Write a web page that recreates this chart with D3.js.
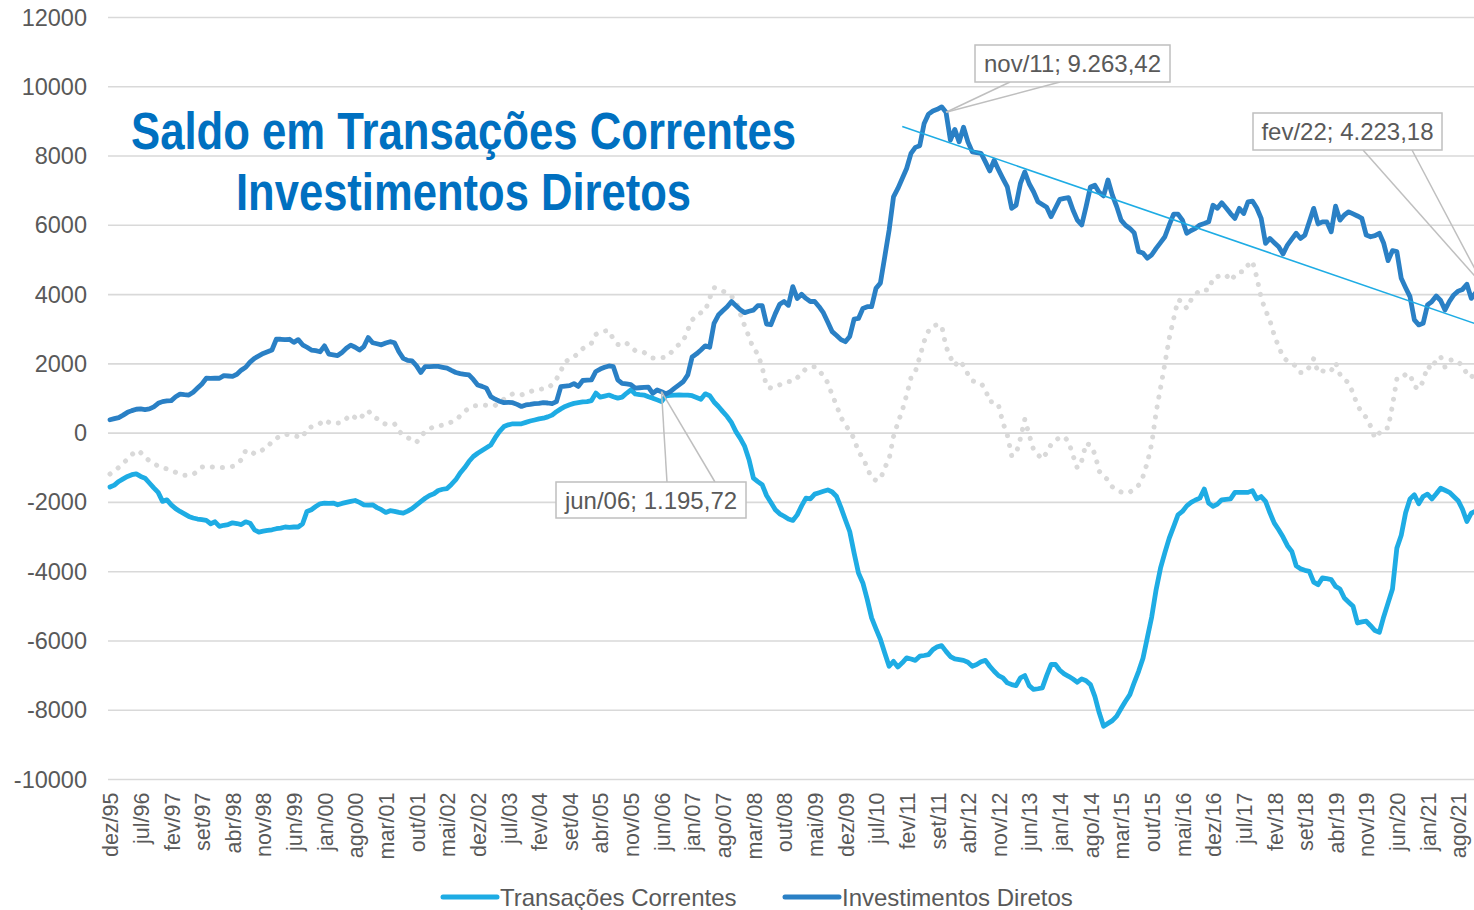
<!DOCTYPE html>
<html><head><meta charset="utf-8">
<script src="https://cdn.jsdelivr.net/npm/d3@7"></script>
<style>
html,body{margin:0;padding:0;background:#fff;overflow:hidden}
svg{display:block}
text{font-family:"Liberation Sans",Arial,Helvetica,sans-serif}
</style></head><body>
<svg id="chart" width="1474" height="910"></svg>
<script>
// ---------- DATA ----------
const monthNames = ["jan","fev","mar","abr","mai","jun","jul","ago","set","out","nov","dez"];
const firstYear = 1995, firstMonthIndex = 11, pointCount = 315; // dez/95 .. fev/22
const categories = d3.range(pointCount).map(i => {
  const m = (firstMonthIndex + i) % 12;
  const yr = firstYear + Math.floor((firstMonthIndex + i) / 12);
  return monthNames[m] + "/" + String(yr % 100).padStart(2, "0");
});
const tickStep = 7;
const tickLabels = categories.filter((d, i) => i % tickStep === 0);
const yTicks = [-10000,-8000,-6000,-4000,-2000,0,2000,4000,6000,8000,10000,12000];

// Transações Correntes (monthly, dez/95 .. fev/22)
const transacoesCorrentes = [
  -1555,
  -1500,-1395,-1320,-1250,-1200,-1175,-1250,-1300,-1440,-1580,-1710,-1970,
  -1925,-2070,-2180,-2260,-2330,-2405,-2450,-2480,-2500,-2520,-2615,-2560,
  -2690,-2660,-2640,-2590,-2610,-2640,-2560,-2600,-2790,-2855,-2830,-2810,
  -2790,-2760,-2740,-2710,-2720,-2710,-2710,-2615,-2260,-2210,-2120,-2040,
  -2020,-2030,-2020,-2070,-2030,-2000,-1970,-1945,-2000,-2070,-2080,-2070,
  -2150,-2210,-2290,-2240,-2260,-2290,-2310,-2250,-2180,-2080,-1980,-1880,
  -1800,-1750,-1655,-1620,-1600,-1480,-1345,-1150,-1000,-820,-675,-580,
  -500,-420,-340,-130,50,190,240,270,265,270,310,350,
  380,410,430,470,520,620,700,770,820,860,880,900,
  910,940,1155,1040,1070,1100,1050,1010,1040,1150,1250,1130,
  1110,1100,1050,1010,960,910,1075,1090,1100,1105,1100,1100,
  1080,1030,980,1135,1080,900,770,620,480,300,45,-150,
  -385,-770,-1300,-1400,-1490,-1800,-2000,-2210,-2330,-2400,-2480,-2520,
  -2360,-2100,-1875,-1900,-1760,-1720,-1680,-1640,-1700,-1830,-2150,-2500,
  -2840,-3460,-4040,-4325,-4800,-5335,-5650,-5950,-6345,-6730,-6590,-6750,
  -6630,-6490,-6520,-6560,-6440,-6420,-6395,-6250,-6170,-6135,-6300,-6450,
  -6520,-6540,-6560,-6615,-6730,-6680,-6600,-6560,-6730,-6875,-7000,-7065,
  -7210,-7260,-7290,-7065,-7000,-7290,-7400,-7380,-7355,-7000,-6680,-6680,
  -6845,-6950,-7020,-7100,-7190,-7095,-7150,-7260,-7600,-8075,-8460,-8380,
  -8300,-8170,-7950,-7740,-7550,-7200,-6875,-6500,-5900,-5300,-4520,-3900,
  -3450,-3030,-2700,-2360,-2260,-2100,-2000,-1930,-1875,-1615,-2020,-2115,
  -2050,-1925,-1910,-1900,-1710,-1710,-1710,-1710,-1660,-1900,-1830,-1970,
  -2300,-2600,-2790,-3000,-3250,-3415,-3830,-3920,-3960,-3990,-4300,-4375,
  -4180,-4200,-4230,-4425,-4500,-4760,-4880,-5000,-5480,-5450,-5430,-5560,
  -5700,-5750,-5300,-4900,-4500,-3320,-2950,-2300,-1900,-1780,-2040,-1830,
  -1760,-1900,-1750,-1590,-1650,-1710,-1830,-1950,-2200,-2550,-2310,-2250,
  -2200,-2180
];

// Investimentos Diretos (monthly, dez/95 .. fev/22)
const investimentosDiretos = [
  385,
  420,450,520,600,650,690,700,680,700,760,860,910,
  930,940,1050,1125,1110,1100,1180,1300,1420,1585,1580,1590,
  1585,1660,1650,1640,1700,1820,1900,2050,2160,2230,2300,2350,
  2400,2710,2710,2700,2710,2620,2700,2550,2480,2400,2380,2350,
  2520,2280,2260,2240,2330,2450,2540,2480,2400,2500,2760,2610,
  2580,2550,2600,2640,2610,2350,2160,2100,2085,1950,1750,1920,
  1920,1930,1925,1900,1875,1810,1750,1720,1700,1680,1550,1390,
  1350,1300,1055,980,920,880,890,880,830,770,815,830,
  850,860,880,870,850,910,1345,1360,1370,1430,1350,1520,
  1530,1540,1780,1850,1900,1940,1920,1540,1440,1420,1400,1300,
  1310,1320,1330,1150,1245,1195.72,1130,1200,1300,1395,1490,1680,
  2200,2290,2400,2520,2480,3170,3410,3535,3650,3800,3680,3560,
  3480,3520,3550,3680,3680,3150,3130,3450,3720,3800,3690,4230,
  3890,4010,3890,3800,3800,3650,3470,3200,2930,2820,2700,2640,
  2790,3290,3310,3600,3650,3650,4180,4330,5090,5860,6820,7065,
  7350,7640,8075,8250,8300,8940,9210,9300,9350,9420,9263.42,8460,
  8770,8410,8830,8410,8120,8100,8080,7830,7570,7880,7600,7350,
  7110,6490,6580,7210,7540,7200,6970,6680,6600,6520,6250,6500,
  6750,6780,6800,6440,6150,6010,6540,7110,7160,6950,6850,7310,
  6870,6540,6150,6000,5910,5780,5240,5200,5050,5150,5335,5500,
  5670,6010,6325,6325,6150,5770,5850,5910,6010,6050,6100,6580,
  6490,6650,6500,6340,6200,6490,6340,6680,6700,6500,6200,5480,
  5620,5500,5380,5170,5430,5600,5770,5620,5720,6100,6490,6040,
  6100,6100,5815,6555,6150,6300,6390,6330,6270,6200,5720,5670,
  5700,5770,5480,4980,5270,5240,4470,4200,3940,3270,3125,3170,
  3700,3800,3960,3830,3555,3800,3990,4100,4150,4300,3890,4050,
  4150,4223.18
];

// Saldo (dotted grey series)
const saldo = [
  -1180,
  -1080,-990,-870,-750,-620,-500,-560,-690,-800,-880,-950,-1000,
  -1030,-1070,-1130,-1180,-1220,-1210,-1190,-1100,-980,-950,-970,-990,
  -990,-990,-980,-960,-880,-770,-500,-500,-600,-560,-470,-415,
  -230,-150,-80,-30,-50,-80,-100,-125,140,180,220,280,
  385,310,270,290,305,420,535,450,385,560,650,480,
  420,300,260,265,270,60,-60,-130,-190,-270,-100,50,
  120,190,210,230,270,320,370,500,625,720,780,800,
  815,800,780,800,900,980,1060,1135,1120,1105,1150,1200,
  1240,1260,1280,1300,1400,1560,1800,2050,2150,2210,2300,2440,
  2520,2600,2850,2920,2950,2960,2710,2560,2530,2600,2500,2380,
  2350,2330,2250,2170,2160,2180,2190,2300,2450,2560,2670,2980,
  3270,3380,3480,3530,3900,4200,4170,4100,4050,3950,3800,3440,
  3095,2780,2430,2300,1900,1350,1300,1340,1395,1450,1490,1490,
  1600,1720,1860,1900,1920,1800,1650,1450,1100,800,450,250,
  45,-150,-550,-700,-1000,-1300,-1365,-1330,-1000,-750,-100,300,
  650,1100,1600,1780,2200,2650,2950,3100,3130,3105,2500,2190,
  1950,2100,1950,1700,1510,1480,1440,1260,900,920,800,300,
  -50,-650,-600,-150,400,-50,-480,-620,-750,-560,-330,-200,
  -130,-100,-250,-640,-1010,-800,-290,-350,-600,-1100,-1250,-1345,
  -1550,-1650,-1700,-1730,-1700,-1620,-1500,-1250,-850,-300,600,1300,
  2000,2740,3300,3850,3800,3600,3850,4000,4130,4130,4130,4470,
  4520,4565,4565,4400,4550,4660,4660,4850,4970,4500,3900,3550,
  3250,2820,2500,2200,2080,2000,1940,1750,1750,1905,2150,1750,
  1800,1750,1800,2035,1700,1550,1450,1150,800,600,450,200,
  -145,0,145,145,800,1560,1560,1700,1700,1350,1270,1500,
  1940,1850,2135,2210,1905,2100,2130,2050,1950,1710,1600,1800,
  1950,2040
];

// Linear trend of Investimentos Diretos (endpoints)
const trendCategories = ["jan/11", "fev/22"];
const trendValues = [8855, 3070];

// Data callouts
const callouts = [
  {cat: "nov/11", series: "id", text: "nov/11; 9.263,42", box: [975, 45, 195, 37], anchors: [[1010, 82], [1060, 82]]},
  {cat: "fev/22", series: "id", text: "fev/22; 4.223,18", box: [1253, 113, 189, 37], anchors: [[1363, 150], [1412, 150]]},
  {cat: "jun/06", series: "id", text: "jun/06; 1.195,72", box: [556, 482, 190, 36], anchors: [[667, 482], [715, 482]]}
];

const titleLines = ["Saldo em Transações Correntes", "Investimentos Diretos"];
const legendItems = [
  {name: "Transações Correntes", color: "#1EACE4"},
  {name: "Investimentos Diretos", color: "#2A80C5"}
];

// ---------- DRAW ----------
const svg = d3.select("#chart");
const colorTC = "#1EACE4", colorID = "#2A80C5", colorSaldo = "#D9D9D9";
const gridColor = "#D9D9D9", textColor = "#595959";

const x = d3.scalePoint().domain(categories).range([110, 1484.4]);
const y = d3.scaleLinear().domain([-10000, 12000]).range([779.5, 17.5]);
const plotLeft = 108, plotRight = 1492;

// gridlines
svg.append("g").selectAll("line").data(yTicks).join("line")
  .attr("x1", plotLeft).attr("x2", plotRight)
  .attr("y1", d => y(d)).attr("y2", d => y(d))
  .attr("stroke", gridColor).attr("stroke-width", 1.6);

// y axis labels
const yAxis = svg.append("g").attr("transform", `translate(${plotLeft},0)`)
  .call(d3.axisLeft(y).tickValues(yTicks).tickSize(0).tickPadding(21).tickFormat(d => String(d)));
yAxis.select(".domain").remove();
yAxis.selectAll("text").attr("fill", textColor).style("font-size", "23.5px")
  .style("font-family", '"Liberation Sans",Arial,sans-serif');

// x axis labels
const xAxis = svg.append("g").attr("transform", `translate(0,${y(-10000)})`)
  .call(d3.axisBottom(x).tickValues(tickLabels).tickSize(0));
xAxis.select(".domain").remove();
xAxis.selectAll("text")
  .attr("transform", "rotate(-90)")
  .attr("x", -13).attr("y", 0).attr("dy", "0.36em")
  .style("text-anchor", "end")
  .attr("fill", textColor).style("font-size", "21.5px")
  .style("font-family", '"Liberation Sans",Arial,sans-serif');

// title
const title = svg.append("g");
title.selectAll("text").data(titleLines).join("text")
  .attr("x", 463.5).attr("y", (d, i) => 149 + i * 60.5)
  .attr("text-anchor", "middle")
  .attr("textLength", (d, i) => i === 0 ? 665 : 455)
  .attr("lengthAdjust", "spacingAndGlyphs")
  .style("font-family", '"Liberation Sans",Arial,sans-serif')
  .style("font-weight", "bold").style("font-size", "51px")
  .attr("fill", "#0070C0")
  .text(d => d);

const lineGen = d3.line().x((d, i) => x(categories[i])).y(d => y(d));

// dotted grey series
svg.append("path").datum(saldo).attr("d", lineGen)
  .attr("fill", "none").attr("stroke", colorSaldo).attr("stroke-width", 5)
  .attr("stroke-linecap", "round").attr("stroke-dasharray", "0.1 10");

svg.append("path").datum(transacoesCorrentes).attr("d", lineGen)
  .attr("fill", "none").attr("stroke", colorTC).attr("stroke-width", 4.8)
  .attr("stroke-linejoin", "round").attr("stroke-linecap", "round");

svg.append("path").datum(investimentosDiretos).attr("d", lineGen)
  .attr("fill", "none").attr("stroke", colorID).attr("stroke-width", 4.8)
  .attr("stroke-linejoin", "round").attr("stroke-linecap", "round");

// trend line
svg.append("line")
  .attr("x1", x(trendCategories[0])).attr("y1", y(trendValues[0]))
  .attr("x2", x(trendCategories[1])).attr("y2", y(trendValues[1]))
  .attr("stroke", colorTC).attr("stroke-width", 1.6);

// callouts
const seriesMap = {id: investimentosDiretos, tc: transacoesCorrentes};
callouts.forEach(c => {
  const idx = categories.indexOf(c.cat);
  const px = x(c.cat), py = y(seriesMap[c.series][idx]);
  const g = svg.append("g");
  c.anchors.forEach(a => {
    g.append("line").attr("x1", a[0]).attr("y1", a[1]).attr("x2", px).attr("y2", py)
      .attr("stroke", "#BFBFBF").attr("stroke-width", 1.5);
  });
  g.append("rect").attr("x", c.box[0]).attr("y", c.box[1]).attr("width", c.box[2]).attr("height", c.box[3])
    .attr("fill", "#fff").attr("stroke", "#BFBFBF").attr("stroke-width", 1.5);
  g.append("text").attr("x", c.box[0] + c.box[2] / 2).attr("y", c.box[1] + c.box[3] / 2)
    .attr("dy", "0.36em").attr("text-anchor", "middle")
    .attr("fill", textColor).style("font-size", "24px").text(c.text);
});

// legend
const legendPos = [443, 785];
const lg = svg.append("g");
legendItems.forEach((it, i) => {
  lg.append("line").attr("x1", legendPos[i]).attr("x2", legendPos[i] + 54)
    .attr("y1", 897).attr("y2", 897)
    .attr("stroke", it.color).attr("stroke-width", 5).attr("stroke-linecap", "round");
  lg.append("text").attr("x", legendPos[i] + 57).attr("y", 897).attr("dy", "0.36em")
    .attr("fill", textColor).style("font-size", "24px").text(it.name);
});
</script></body></html>
